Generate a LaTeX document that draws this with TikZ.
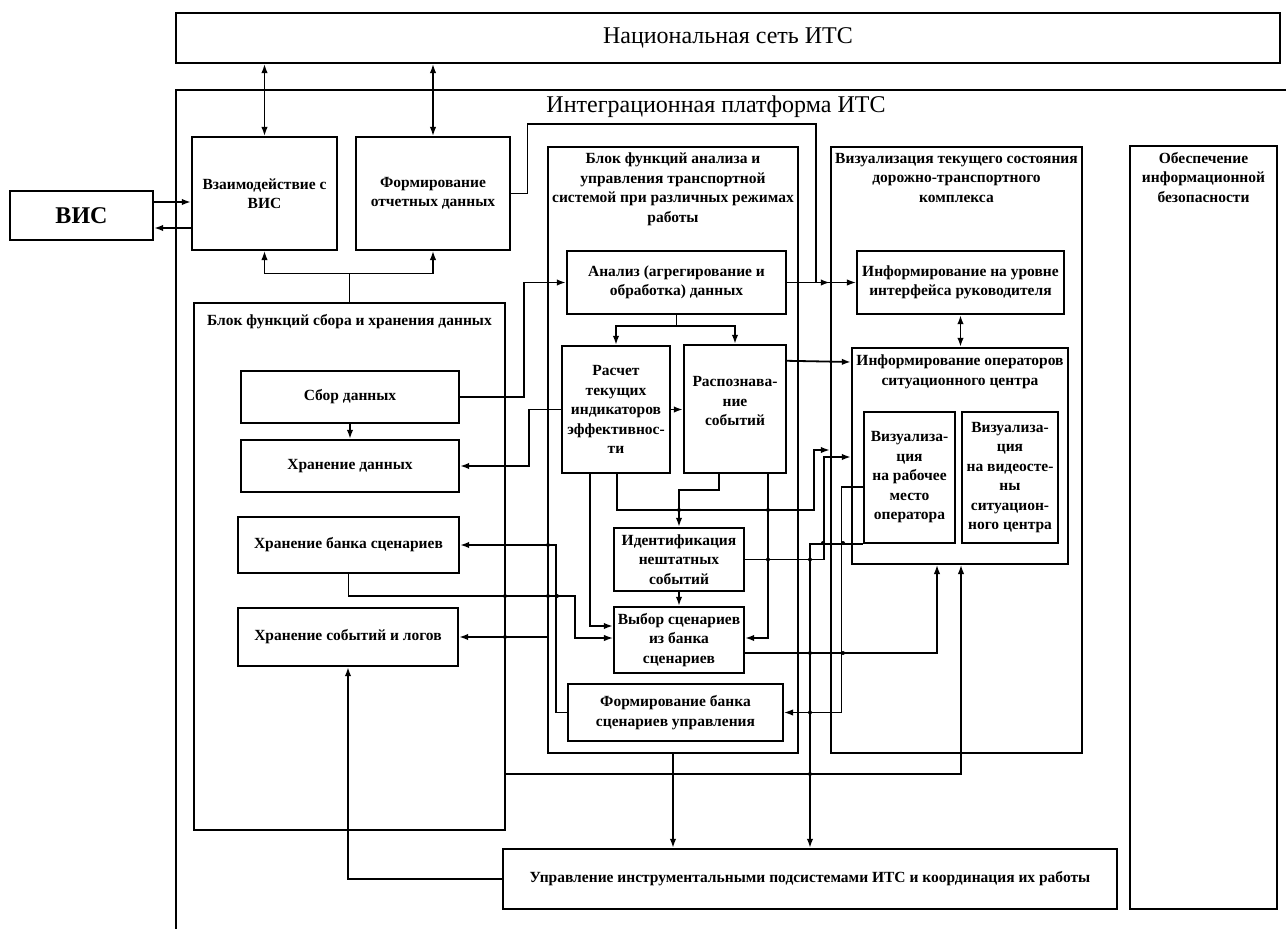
\documentclass[tikz,border=0pt]{standalone}
\usepackage{fontspec}
\setmainfont{Liberation Serif}
\usetikzlibrary{arrows.meta,positioning}

\tikzset{
  box/.style={draw=black,line width=2.4pt,rectangle,inner sep=2pt,align=center,
    font=\bfseries\fontsize{15.5}{19.5}\selectfont},
  cont/.style={draw=black,line width=2.4pt,rectangle,inner sep=0pt},
  hd/.style={inner sep=0pt,align=center,font=\bfseries\fontsize{15.5}{19.5}\selectfont},
  big/.style={inner sep=0pt,font=\fontsize{24}{28}\selectfont},
  conn/.style={line width=1.8pt,-{Latex[length=9pt,width=6.5pt]}},
  wire/.style={line width=1.1pt,-{Latex[length=9pt,width=6.5pt]}},
  twoway/.style={line width=1.3pt,{Latex[length=9pt,width=6.5pt]}-{Latex[length=9pt,width=6.5pt]}}
}

\begin{document}
\begin{tikzpicture}[x=1pt,y=-1pt]
        \useasboundingbox (0,0) rectangle (1286,929);

        % top level
        \node[box,minimum width=143pt,minimum height=49pt,font=\bfseries\fontsize{24}{28}\selectfont] (vis) at (81.5,215.5) {ВИС};
        \node[box,minimum width=1104pt,minimum height=50pt,font=\fontsize{24}{28}\selectfont] (nat) at (728,38) {Национальная сеть ИТС};
        \draw[line width=2.4pt] (176,929) -- (176,90) -- (1286,90);
        \node[big] (plt) at (716,107) {Интеграционная платформа ИТС};
        \node[box,minimum width=145pt,minimum height=113pt] (vzaim) at (264.5,193.5) {Взаимодействие с\\ВИС};
        \node[box,minimum width=154pt,minimum height=113pt] (otch) at (433,193.5) {Формирование\\отчетных данных};

        % block of data collection
        \node[cont,minimum width=311pt,minimum height=527pt] (sbr) at (349.5,566.5) {};
        \node[hd,below=12pt of sbr.north] (sbrT) {Блок функций сбора и хранения данных};
        \node[box,minimum width=218pt,minimum height=52pt] (sbor) at (350,397) {Сбор данных};
        \node[box,minimum width=218pt,minimum height=52pt] (hrd) at (350,466) {Хранение данных};
        \node[box,minimum width=221pt,minimum height=56pt] (hrb) at (348.5,545) {Хранение банка сценариев};
        \node[box,minimum width=220pt,minimum height=58pt] (hrs) at (348,637) {Хранение событий и логов};

        % block of analysis
        \node[cont,minimum width=250pt,minimum height=606pt] (ban) at (673,450) {};
        \node[hd,below=7pt of ban.north] (banT) {Блок функций анализа и\\управления транспортной\\системой при различных режимах\\работы};
        \node[box,minimum width=219pt,minimum height=63pt] (anl) at (676.5,282.5) {Анализ (агрегирование и\\обработка) данных};
        \node[box,minimum width=108pt,minimum height=127pt] (rsch) at (616,409.5) {Расчет\\текущих\\индикаторов\\эффективнос-\\ти};
        \node[box,minimum width=102pt,minimum height=128pt,label={[hd,yshift=8pt]center:{Распознава-\\ние\\событий}}] (rasp) at (735,409) {};
        \node[box,minimum width=130pt,minimum height=63pt] (idn) at (679,559.5) {Идентификация\\нештатных\\событий};
        \node[box,minimum width=130pt,minimum height=66pt] (vyb) at (679,640) {Выбор сценариев\\из банка\\сценариев};
        \node[box,minimum width=215pt,minimum height=57pt] (fbn) at (675.5,712.5) {Формирование банка\\сценариев управления};

        % block of visualisation
        \node[cont,minimum width=251pt,minimum height=606pt] (viz) at (956.5,450) {};
        \node[hd,below=7pt of viz.north] (vizT) {Визуализация текущего состояния\\дорожно-транспортного\\комплекса};
        \node[box,minimum width=207pt,minimum height=63pt] (ifr) at (960.5,282.5) {Информирование на уровне\\интерфейса руководителя};
        \node[cont,minimum width=216pt,minimum height=216pt] (ifo) at (960,456) {};
        \node[hd,below=8pt of ifo.north] (ifoT) {Информирование операторов\\ситуационного центра};
        \node[box,minimum width=91pt,minimum height=131pt] (vrm) at (909.5,477.5) {Визуализа-\\ция\\на рабочее\\место\\оператора};
        \node[box,minimum width=96pt,minimum height=131pt] (vvs) at (1010,477.5) {Визуализа-\\ция\\на видеосте-\\ны\\ситуацион-\\ного центра};

        \node[cont,minimum width=147pt,minimum height=763pt] (bez) at (1203.5,527.5) {};
        \node[hd,below=7pt of bez.north] (bezT) {Обеспечение\\информационной\\безопасности};
        \node[box,minimum width=614pt,minimum height=60pt] (upr) at (810,879) {Управление инструментальными подсистемами ИТС и координация их работы};

        % links
        \draw[conn] ([yshift=13.5pt]vis.east) -- (vzaim.west |- 0,202);
        \draw[conn] (vzaim.west |- 0,228) -- ([yshift=-12.5pt]vis.east);
        \draw[twoway] (nat.south -| vzaim.north) -- (vzaim.north);
        \draw[twoway] (nat.south -| otch.north) -- (otch.north);
        \draw[wire] (sbr.north) -- ++(0,-28) -| (vzaim.south);
        \draw[wire] (sbr.north) -- ++(0,-28) -| (otch.south);
        \draw[wire] (otch.east) -- ++(16,0) |- (816,124) |- (ifr.west);
        \draw[conn] (sbor.east) -- ++(64,0) |- (anl.west);
        \draw[conn] (rsch.west) -- ++(-32,0) |- (hrd.east);
        \draw[conn] (sbor.south) -- (hrd.north);
        \draw[conn] (anl.south) -- ++(0,11) -| (rsch.north);
        \draw[conn] (anl.south) -- ++(0,11) -| (rasp.north);
        \draw[conn] (anl.east) -- (anl.east -| viz.west);
        \draw[conn] ([yshift=-17pt]rasp.north east) -- (ifo.west |- 0,362);
        \draw[conn] (rsch.east) -- (rasp.west |- rsch.east);
        \draw[twoway,line width=1.8pt] (ifr.south) -- (ifr.south |- ifo.north);
        \draw[conn] ([xshift=1pt]rsch.south) |- (814,510) |- (viz.west |- 0,450);
        \draw[conn] ([xshift=-16pt]rasp.south) |- (idn.north |- 0,490) -- (idn.north);
        \draw[conn] ([xshift=33pt]rasp.south) |- ([yshift=2pt]vyb.east);
        \draw[conn] (idn.south) -- (vyb.north);
        \draw[conn] (idn.east) -- ++(79,0) |- (ifo.west |- 0,457);
        \draw[conn] ([xshift=-26pt]rsch.south) |- ([yshift=14pt]vyb.west);
        \draw[wire] (hrb.south) |- (575,596) |- ([yshift=2pt]vyb.west);
        \draw[conn] (fbn.west) -- ++(-11,0) |- (hrb.east);
        \draw[conn] (ban.west |- hrs.east) -- (hrs.east);
        \draw[wire] ([yshift=-13pt]vyb.east) -| ([xshift=-23pt]ifo.south);
        \draw[wire] ([yshift=-9.5pt]vrm.west) -- ++(-21,0) |- (fbn.east);
        \draw[conn] (vrm.south west) -| (upr.north);
        \draw[conn] (ban.south) -- (ban.south |- upr.north);
        \draw[wire] (sbr.east |- 0,774) -| ([xshift=1pt]ifo.south);
        \draw[conn] (upr.west) -| (hrs.south);

        \fill (548,545) circle (2pt) (505,596) circle (2pt) (548,596) circle (2pt) (557,596) circle (2pt)
              (505,637) circle (2pt) (679,510) circle (2pt) (768,510) circle (2pt) (768,559.5) circle (2pt)
              (823,543) circle (2pt) (843,543) circle (2pt) (810,559.5) circle (2pt) (810,653) circle (2pt)
              (843,653) circle (2pt) (810,712.5) circle (2pt) (810,774) circle (2pt);
\end{tikzpicture}
\end{document}
